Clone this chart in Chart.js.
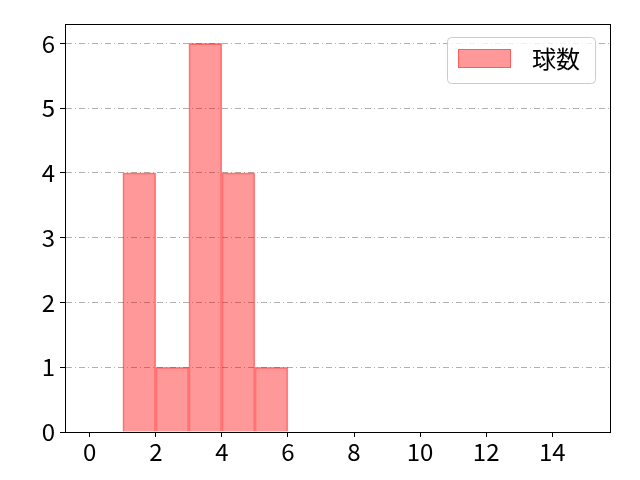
<!DOCTYPE html>
<html>
<head>
<meta charset="utf-8">
<script src="https://cdn.jsdelivr.net/npm/chart.js@4/dist/chart.umd.min.js"></script>
<style>
  html, body { margin: 0; padding: 0; background: #fff; }
  #wrap { width: 640px; height: 480px; }
</style>
</head>
<body>
<div id="wrap"><canvas id="myChart" width="640" height="480"></canvas></div>
<script>
const binStarts = [1, 2, 3, 4, 5];
const counts = [4, 1, 6, 4, 1];
const xTicks = [0, 2, 4, 6, 8, 10, 12, 14];
const yTicks = [0, 1, 2, 3, 4, 5, 6];
const seriesLabel = '球数';

const FONT = '"Noto Sans CJK JP", "DejaVu Sans", sans-serif';

// axes frame and legend box, matplotlib style
const framePlugin = {
    id: 'frame',
    afterDraw(chart) {
        const { ctx, chartArea: a } = chart;
        ctx.save();
        ctx.strokeStyle = '#000';
        ctx.lineWidth = 1;
        ctx.strokeRect(Math.round(a.left) + 0.5, Math.round(a.top) + 0.5,
            Math.round(a.right - a.left), Math.round(a.bottom - a.top));

        const w = 148, h = 46;
        const lx = a.right - 15 - w, ly = a.top + 13;
        ctx.beginPath();
        ctx.roundRect(lx + 0.5, ly + 0.5, w, h, 4);
        ctx.fillStyle = 'rgba(255,255,255,0.8)';
        ctx.fill();
        ctx.strokeStyle = '#cccccc';
        ctx.stroke();
        ctx.fillStyle = 'rgba(255,0,0,0.4)';
        ctx.fillRect(lx + 11, ly + 12, 53, 19);
        ctx.strokeStyle = 'rgba(255,0,0,0.4)';
        ctx.strokeRect(lx + 11.5, ly + 12.5, 52, 18);
        ctx.fillStyle = '#000';
        ctx.font = '24px ' + FONT;
        ctx.textBaseline = 'middle';
        ctx.fillText(seriesLabel, lx + 85, ly + 22);
        ctx.restore();
    }
};

const ctx = document.getElementById('myChart').getContext('2d');

new Chart(ctx, {
    type: 'bar',
    data: {
        datasets: [{
            label: seriesLabel,
            data: binStarts.map((b, i) => ({ x: b + 0.5, y: counts[i] })),
            backgroundColor: 'rgba(255, 0, 0, 0.4)',
            borderColor: 'rgba(255, 0, 0, 0.45)',
            borderWidth: 1,
            barPercentage: 1,
            categoryPercentage: 1,
            grouped: false
        }]
    },
    options: {
        responsive: false,
        animation: false,
        layout: { padding: { left: 0, right: 30, top: 24, bottom: 0 } },
        plugins: {
            legend: { display: false },
            tooltip: { enabled: false }
        },
        scales: {
            x: {
                type: 'linear',
                offset: false,
                min: -0.75,
                max: 15.75,
                afterBuildTicks: (s) => { s.ticks = xTicks.map(v => ({ value: v })); },
                afterFit: (s) => { s.height = 48; },
                grid: { offset: false, drawOnChartArea: false, color: '#000', tickLength: 5, tickWidth: 1 },
                border: { color: '#000' },
                ticks: { color: '#000', font: { family: FONT, size: 24 }, padding: 0, maxRotation: 0, autoSkip: false }
            },
            y: {
                min: 0,
                max: 6.3,
                afterBuildTicks: (s) => { s.ticks = yTicks.map(v => ({ value: v })); },
                afterFit: (s) => { s.width = 65; },
                grid: {
                    color: '#b0b0b0',
                    tickColor: '#000',
                    tickLength: 5,
                    tickBorderDash: []
                },
                border: { color: '#000', dash: [6, 3, 1, 3] },
                ticks: { color: '#000', font: { family: FONT, size: 24 }, padding: 5, autoSkip: false }
            }
        }
    },
    plugins: [framePlugin]
});
</script>
</body>
</html>
